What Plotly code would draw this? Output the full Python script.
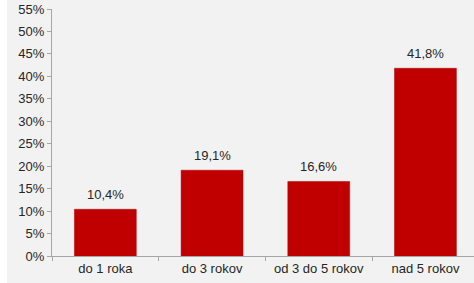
import plotly.graph_objects as go

categories = ["do 1 roka", "do 3 rokov", "od 3 do 5 rokov", "nad 5 rokov"]
values = [10.4, 19.1, 16.6, 41.8]
labels = ["10,4%", "19,1%", "16,6%", "41,8%"]
y_ticks = [0, 5, 10, 15, 20, 25, 30, 35, 40, 45, 50, 55]
y_tick_labels = [f"{v}%" for v in y_ticks]

W, H = 474, 283
L, R, T, B = 52, 0, 9, 27
plot_w = W - L - R
FONT = "Liberation Sans, Arial, sans-serif"

fig = go.Figure()
fig.add_trace(go.Bar(
    x=categories, y=values,
    marker=dict(color="#c00000", line=dict(color="#a80000", width=0.5)),
    width=0.58, hoverinfo="skip",
))

annotations = [
    dict(x=c, y=v, text=t, showarrow=False, yanchor="bottom", yshift=5,
         font=dict(family=FONT, size=13, color="#262626"))
    for c, v, t in zip(categories, values, labels)
]

fig.update_layout(
    width=W, height=H,
    margin=dict(l=L, r=R, t=T, b=B, autoexpand=False),
    paper_bgcolor="#f2f2f2", plot_bgcolor="#f2f2f2",
    font=dict(family=FONT, size=13, color="#262626"),
    showlegend=False,
    annotations=annotations,
    xaxis=dict(
        type="category", range=[-0.5, 3.455], automargin=False,
        showline=True, linecolor="#a6a6a6", linewidth=1,
        ticks="outside", ticklen=4, tickcolor="#a6a6a6", tickson="boundaries",
        showgrid=False, zeroline=False, fixedrange=True,
    ),
    yaxis=dict(
        range=[0, 55], tickvals=y_ticks, ticktext=y_tick_labels, automargin=False,
        showline=True, linecolor="#a6a6a6", linewidth=1,
        ticks="outside", ticklen=4, tickcolor="#a6a6a6",
        showgrid=False, zeroline=False, fixedrange=True,
    ),
    shapes=[dict(
        type="rect", xref="paper", yref="paper", layer="below",
        x0=-L / plot_w, x1=(7 - L) / plot_w, y0=-1, y1=2,
        fillcolor="white", line=dict(width=0),
    )],
)

fig.write_html(
    "out.html",
    config={"displayModeBar": False},
    post_script="document.body.style.margin='0';document.body.style.overflow='hidden';",
)
